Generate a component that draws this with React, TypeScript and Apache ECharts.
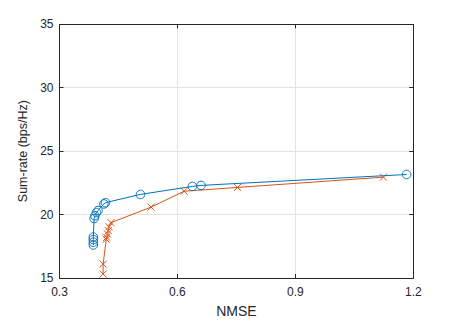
import React, { useEffect, useRef } from "react";
import * as echarts from "echarts";

const blueX = [0.386, 0.386, 0.386, 0.386, 0.388, 0.39, 0.394, 0.398, 0.413, 0.417, 0.506, 0.638, 0.66, 1.183];
const blueY = [17.6, 17.82, 18.03, 18.23, 19.69, 19.9, 20.16, 20.32, 20.84, 20.94, 21.59, 22.22, 22.3, 23.16];
const orangeX = [0.411, 0.411, 0.419, 0.42, 0.422, 0.424, 0.426, 0.431, 0.533, 0.617, 0.753, 1.124];
const orangeY = [15.31, 16.1, 18.05, 18.21, 18.47, 18.73, 19.04, 19.36, 20.59, 21.84, 22.14, 22.95];

const xTicks = [0.3, 0.6, 0.9, 1.2];
const yTicks = [15, 20, 25, 30, 35];
const xLabel = "NMSE";
const yLabel = "Sum-rate (bps/Hz)";

const BLUE = "#0072BD";
const ORANGE = "#D95319";
const AX = "#262626";
const FONT = "Liberation Sans, Arial, Helvetica, sans-serif";

export default function App() {
  const ref = useRef<HTMLDivElement>(null);
  useEffect(() => {
    const chart = echarts.init(ref.current!, null, { renderer: "svg" });
    const xMin = xTicks[0];
    const xMax = xTicks[xTicks.length - 1];
    const xInt = xTicks[1] - xTicks[0];
    const yMin = yTicks[0];
    const yMax = yTicks[yTicks.length - 1];
    const yInt = yTicks[1] - yTicks[0];
    const axisCommon = {
      type: "value" as const,
      axisLine: { show: true, lineStyle: { color: AX, width: 1 } },
      axisTick: { show: true, inside: true, length: 4, lineStyle: { color: AX, width: 1 } },
    };
    chart.setOption({
      animation: false,
      backgroundColor: "#ffffff",
      grid: { left: 59.5, top: 24.3, right: 43.7, bottom: 43, containLabel: false },
      xAxis: [
        {
          ...axisCommon,
          min: xMin,
          max: xMax,
          interval: xInt,
          name: xLabel,
          nameLocation: "middle",
          nameGap: 26,
          nameTextStyle: { color: AX, fontSize: 14, fontFamily: FONT },
          axisLabel: {
            color: AX,
            fontSize: 12,
            fontFamily: FONT,
            margin: 8,
            formatter: (v: number) => v.toFixed(1),
          },
          splitLine: { show: true, lineStyle: { color: "#e2e2e2", width: 1 } },
        },
        {
          ...axisCommon,
          position: "top",
          min: xMin,
          max: xMax,
          interval: xInt,
          axisLabel: { show: false },
          splitLine: { show: false },
        },
      ],
      yAxis: [
        {
          ...axisCommon,
          min: yMin,
          max: yMax,
          interval: yInt,
          name: yLabel,
          nameLocation: "middle",
          nameGap: 24,
          nameTextStyle: { color: AX, fontSize: 12.5, fontFamily: FONT },
          axisLabel: { color: AX, fontSize: 12, fontFamily: FONT, margin: 6 },
          splitLine: { show: true, lineStyle: { color: "#e2e2e2", width: 1 } },
        },
        {
          ...axisCommon,
          position: "right",
          min: yMin,
          max: yMax,
          interval: yInt,
          axisLabel: { show: false },
          splitLine: { show: false },
        },
      ],
      series: [
        {
          type: "line",
          data: blueX.map((x, i) => [x, blueY[i]]),
          symbol: "circle",
          symbolSize: 8.5,
          showAllSymbol: true,
          lineStyle: { color: BLUE, width: 1 },
          itemStyle: { color: "rgba(0,0,0,0)", borderColor: BLUE, borderWidth: 1 },
          z: 3,
        },
        {
          type: "line",
          data: orangeX.map((x, i) => [x, orangeY[i]]),
          symbol: "path://M0,0L10,10M10,0L0,10",
          symbolSize: 7,
          showAllSymbol: true,
          lineStyle: { color: ORANGE, width: 1 },
          itemStyle: { color: ORANGE, borderColor: ORANGE, borderWidth: 1 },
          z: 2,
        },
      ],
    });
    return () => chart.dispose();
  }, []);
  return (
    <div
      ref={ref}
      style={{ position: "absolute", left: 0, top: 0, width: 457, height: 323 }}
    />
  );
}
